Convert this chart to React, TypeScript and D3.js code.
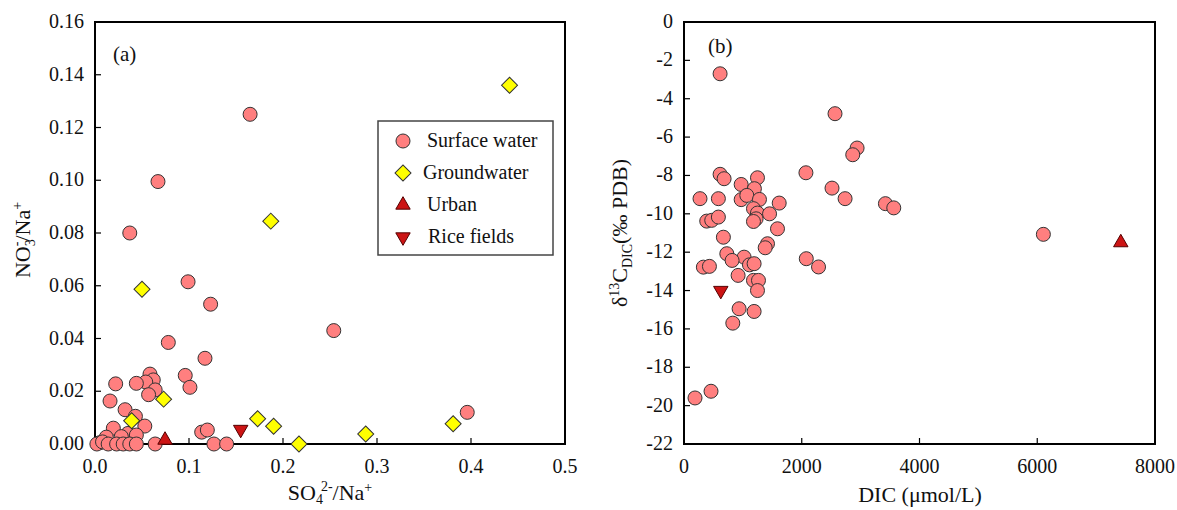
import React from 'react';
import * as d3 from 'd3';

// panel (a): SO4/Na vs NO3/Na
const surfA: [number, number][] = [
  [0.165, 0.125], [0.037, 0.080], [0.067, 0.0995], [0.099, 0.0615], [0.123, 0.053],
  [0.254, 0.043], [0.396, 0.012], [0.078, 0.0385], [0.117, 0.0325], [0.096, 0.026],
  [0.101, 0.0215], [0.0585, 0.0265], [0.062, 0.0243], [0.054, 0.0235], [0.044, 0.023],
  [0.064, 0.0205], [0.057, 0.0187], [0.022, 0.0228], [0.016, 0.0163], [0.032, 0.013],
  [0.043, 0.0105], [0.053, 0.0068], [0.0195, 0.006], [0.012, 0.0026], [0.035, 0.004],
  [0.044, 0.0034], [0.028, 0.0028], [0.005, 0.0005], [0.002, 0], [0.008, 0.0008],
  [0.014, 0], [0.023, 0], [0.030, 0], [0.037, 0], [0.044, 0], [0.064, 0],
  [0.1135, 0.0045], [0.1195, 0.0053], [0.1265, 0], [0.140, 0],
];
const groundA: [number, number][] = [
  [0.441, 0.136], [0.187, 0.0845], [0.050, 0.0587], [0.073, 0.017], [0.039, 0.0088],
  [0.173, 0.0096], [0.190, 0.0067], [0.217, 0], [0.288, 0.0038], [0.381, 0.0077],
];
const urbanA: [number, number][] = [[0.0745, 0.0015]];
const riceA: [number, number][] = [[0.155, 0.0055]];

// panel (b): DIC vs d13C
const surfB: [number, number][] = [
  [613, -2.7], [2565, -4.78], [2940, -6.57], [2866, -6.92], [613, -7.94], [681, -8.17],
  [1248, -8.12], [2071, -7.86], [971, -8.47], [1196, -8.69], [2514, -8.66], [272, -9.21],
  [584, -9.21], [971, -9.26], [1067, -9.04], [1282, -9.25], [1617, -9.44], [2736, -9.21],
  [3421, -9.47], [3563, -9.69], [1180, -9.73], [1248, -9.96], [1453, -10.0], [1225, -10.26],
  [1180, -10.4], [386, -10.38], [471, -10.34], [584, -10.17], [1588, -10.78], [669, -11.22],
  [1418, -11.56], [1379, -11.77], [727, -12.08], [1021, -12.26], [817, -12.43], [1112, -12.66],
  [1191, -12.6], [329, -12.78], [432, -12.74], [2077, -12.34], [2285, -12.77], [919, -13.21],
  [1180, -13.47], [1265, -13.47], [1248, -14.0], [936, -14.95], [1191, -15.09], [829, -15.7],
  [187, -19.6], [459, -19.25], [6104, -11.07],
];
const urbanB: [number, number][] = [[7419, -11.5]];
const riceB: [number, number][] = [[625, -14.0]];

const ticksAx = [0, 0.1, 0.2, 0.3, 0.4, 0.5];
const ticksAy = [0, 0.02, 0.04, 0.06, 0.08, 0.1, 0.12, 0.14, 0.16];
const ticksBx = [0, 2000, 4000, 6000, 8000];
const ticksBy = [0, -2, -4, -6, -8, -10, -12, -14, -16, -18, -20, -22];

const legendItems = ['Surface water', 'Groundwater', 'Urban', 'Rice fields'];

const FONT = '"Liberation Serif", "Times New Roman", serif';
const PINK = '#ff7f7f';
const YEL = '#ffff00';
const RED = '#cc1414';

const circlePath = d3.symbol(d3.symbolCircle, 154)()!;
const diamondPath = d3.symbol(d3.symbolSquare, 128)()!;
const triPath = d3.symbol(d3.symbolTriangle, 90)()!;

function Marker({ kind, x, y }: { kind: number; x: number; y: number }) {
  if (kind === 0) return <path d={circlePath} transform={`translate(${x},${y})`} fill={PINK} stroke="#333" strokeWidth={1} />;
  if (kind === 1) return <path d={diamondPath} transform={`translate(${x},${y}) rotate(45)`} fill={YEL} stroke="#333" strokeWidth={1} />;
  if (kind === 2) return <path d={triPath} transform={`translate(${x},${y})`} fill={RED} stroke="#500" strokeWidth={1} />;
  return <path d={triPath} transform={`translate(${x},${y}) rotate(180)`} fill={RED} stroke="#500" strokeWidth={1} />;
}

function Frame({ x, y, xt, yt, xf, yf }: any) {
  const [x0, x1] = x.range();
  const [y0, y1] = y.range();
  return (
    <g fontFamily={FONT} fontSize={20} fill="#111">
      {xt.map((t: number) => (
        <g key={'x' + t}>
          <line x1={x(t)} x2={x(t)} y1={y0} y2={y0 - 6} stroke="#000" strokeWidth={1.2} />
          <text x={x(t)} y={y0 + 29} textAnchor="middle">{xf(t)}</text>
        </g>
      ))}
      {yt.map((t: number) => (
        <g key={'y' + t}>
          <line x1={x0} x2={x0 + 6} y1={y(t)} y2={y(t)} stroke="#000" strokeWidth={1.2} />
          <text x={x0 - 11} y={y(t) + 6} textAnchor="end">{yf(t)}</text>
        </g>
      ))}
      <rect x={x0} y={y1} width={x1 - x0} height={y0 - y1} fill="none" stroke="#000" strokeWidth={2} />
    </g>
  );
}

export default function App() {
  const xa = d3.scaleLinear().domain([0, 0.5]).range([95, 565]);
  const ya = d3.scaleLinear().domain([0, 0.16]).range([444, 22]);
  const xb = d3.scaleLinear().domain([0, 8000]).range([684, 1155]);
  const yb = d3.scaleLinear().domain([-22, 0]).range([444, 22]);

  const seriesA = [surfA, groundA, urbanA, riceA];
  const seriesB = [surfB, urbanB, riceB];
  const kindsB = [0, 2, 3];

  return (
    <svg width={1177} height={510} style={{ position: 'absolute', left: 0, top: 0, background: '#fff' }}>
      <Frame x={xa} y={ya} xt={ticksAx} yt={ticksAy} xf={d3.format('.1f')} yf={d3.format('.2f')} />
      <Frame x={xb} y={yb} xt={ticksBx} yt={ticksBy} xf={d3.format('d')} yf={(v: number) => String(v)} />

      {seriesA.map((s, k) => s.map((d, i) => <Marker key={`a${k}-${i}`} kind={k} x={xa(d[0])} y={ya(d[1])} />))}
      {seriesB.map((s, k) => s.map((d, i) => <Marker key={`b${k}-${i}`} kind={kindsB[k]} x={xb(d[0])} y={yb(d[1])} />))}

      {/* legend */}
      <rect x={378} y={121} width={175} height={134} fill="#fff" stroke="#444" strokeWidth={1.5} />
      {legendItems.map((t, i) => (
        <g key={t}>
          <Marker kind={i} x={403} y={141 + i * 32} />
          <text x={i === 1 ? 423 : i === 3 ? 428 : 427} y={147 + i * 32} fontFamily={FONT} fontSize={20} fill="#111">{t}</text>
        </g>
      ))}

      {/* panel labels */}
      <text x={113} y={61} fontFamily={FONT} fontSize={21} fill="#111">(a)</text>
      <text x={708} y={53} fontFamily={FONT} fontSize={21} fill="#111">(b)</text>

      {/* axis titles */}
      <text x={330} y={500} textAnchor="middle" fontFamily={FONT} fontSize={22} fill="#111">
        SO<tspan dy={4} fontSize={14}>4</tspan><tspan dx={-2} dy={-13} fontSize={14}>2-</tspan><tspan dy={9}>/Na</tspan><tspan dy={-8} fontSize={14}>+</tspan>
      </text>
      <text x={920} y={502} textAnchor="middle" fontFamily={FONT} fontSize={22} fill="#111">DIC (μmol/L)</text>
      <text transform="translate(30,240) rotate(-90)" textAnchor="middle" fontFamily={FONT} fontSize={22} fill="#111">
        NO<tspan dy={5} fontSize={14}>3</tspan><tspan dx={-7} dy={-14} fontSize={14}>-</tspan><tspan dy={9}>/Na</tspan><tspan dy={-8} fontSize={14}>+</tspan>
      </text>
      <text transform="translate(627,233) rotate(-90)" textAnchor="middle" fontFamily={FONT} fontSize={22} fill="#111">
        δ<tspan dy={-8} fontSize={14}>13</tspan><tspan dy={8}>C</tspan><tspan dy={5} fontSize={14}>DIC</tspan><tspan dy={-5}>(‰ PDB)</tspan>
      </text>
    </svg>
  );
}
